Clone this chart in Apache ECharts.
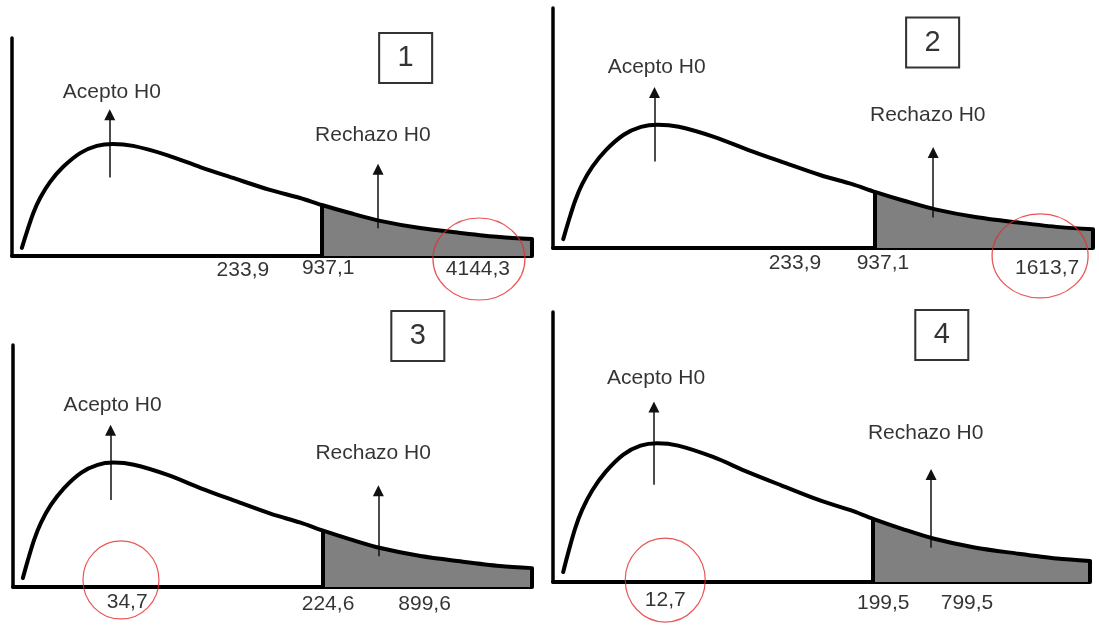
<!DOCTYPE html>
<html><head><meta charset="utf-8">
<script src="https://cdn.jsdelivr.net/npm/echarts@6/dist/echarts.min.js"></script>
<style>html,body{margin:0;padding:0;background:#fff}#c{width:1099px;height:626px}</style>
</head><body><div id="c"></div>
<script>
// Shared density-curve shape (x: % of axis length, y: % of axis height)
const curveX = [1.9, 2.8, 4.1, 5.4, 7.3, 9.8, 13.1, 16.3, 19.4, 23.3, 29.8, 36.2, 42.5, 49.6, 55.4, 59.6, 65.0, 70.8, 78.5, 86.2, 93.8, 100];
const curveY = [3.7, 10.6, 19.7, 26.6, 33.9, 40.8, 47.2, 50.5, 51.4, 50.5, 46.3, 40.8, 35.8, 30.3, 26.6, 23.4, 19.7, 16.1, 12.8, 10.6, 8.7, 7.8];
const criticalX = 59.6;
const panelNumbers = ['1', '2', '3', '4'];
const acceptText = 'Acepto H0';
const rejectText = 'Rechazo H0';
const tickLabels = [
  ['233,9', '937,1', '4144,3'],
  ['233,9', '937,1', '1613,7'],
  ['34,7', '224,6', '899,6'],
  ['12,7', '199,5', '799,5']
];

// ---- layout (pixels / positions in axis %) ----
const grids = [
  {left: 12, top: 38, width: 520, height: 218},
  {left: 553, top: 8, width: 540, height: 240},
  {left: 13, top: 345, width: 519, height: 242},
  {left: 553, top: 312, width: 537, height: 270}
];
const tickPos = [
  [[44.4, -6.4], [60.8, -5.8], [89.6, -6.2]],
  [[44.8, -6.3], [61.1, -6.3], [91.5, -8.3]],
  [[22.0, -6.2], [60.7, -7.0], [79.3, -7.0]],
  [[20.9, -6.7], [61.5, -7.8], [77.1, -7.8]]
];
const circlePos = [[89.8, -1.4, 92, 82], [90.2, -3.3, 96, 84], [20.8, 2.9, 76, 78], [20.9, 0.7, 80, 84]];
const boxPos = [[75.7, 90.8], [70.3, 85.6], [78.0, 103.7], [72.4, 91.5]];
const acceptArrow = {x: 18.8, y0: 36, y1: 64.8, tx: 19.2, ty: 75.3};
const rejectArrow = {x: 70.4, y0: 12.7, y1: 39.8, tx: 69.4, ty: 55.2};

const FONT = 'Liberation Sans';
const TXT = '#000';
const critY = curveY[curveX.indexOf(criticalX)];
const endX = curveX[curveX.length - 1], endY = curveY[curveY.length - 1];
const curveData = curveX.map((x, i) => [x, curveY[i]]);
const tailData = curveData.filter(d => d[0] >= criticalX);

const option = {
  animation: false,
  backgroundColor: '#fff',
  grid: grids.map(g => Object.assign({containLabel: false, outerBoundsMode: 'none'}, g)),
  xAxis: grids.map((g, i) => ({
    type: 'value', gridIndex: i, min: 0, max: 100,
    axisLine: {show: true, onZero: false, lineStyle: {color: '#000', width: 4}},
    axisTick: {show: false}, axisLabel: {show: false}, splitLine: {show: false}
  })),
  yAxis: grids.map((g, i) => ({
    type: 'value', gridIndex: i, min: 0, max: 100,
    axisLine: {show: true, onZero: false, lineStyle: {color: '#000', width: 3.5}},
    axisTick: {show: false}, axisLabel: {show: false}, splitLine: {show: false}
  })),
  series: []
};

grids.forEach((g, i) => {
  const ax = {xAxisIndex: i, yAxisIndex: i};
  // rejection tail (shaded)
  option.series.push(Object.assign({
    type: 'line', data: tailData, smooth: 0.3, symbol: 'none', z: 3,
    lineStyle: {width: 0, opacity: 0},
    areaStyle: {color: '#808080', opacity: 1},
    markLine: {
      silent: true, symbol: ['none', 'none'], label: {show: false},
      lineStyle: {color: '#000', width: 4, type: 'solid'},
      data: [
        [{coord: [criticalX, 0]}, {coord: [criticalX, critY]}],
        [{coord: [endX, 0]}, {coord: [endX, endY]}]
      ]
    }
  }, ax));
  // density curve
  option.series.push(Object.assign({
    type: 'line', data: curveData, smooth: 0.3, symbol: 'none', z: 5,
    lineStyle: {color: '#000', width: 4, cap: 'round', join: 'round'}
  }, ax));
  // arrows
  option.series.push(Object.assign({
    type: 'scatter', data: [], z: 6,
    markLine: {
      silent: true, symbol: ['none', 'triangle'], symbolSize: [11, 11],
      label: {show: false},
      lineStyle: {color: '#111', width: 1.5, type: 'solid'},
      data: [
        [{coord: [acceptArrow.x, acceptArrow.y0]}, {coord: [acceptArrow.x, acceptArrow.y1]}],
        [{coord: [rejectArrow.x, rejectArrow.y0]}, {coord: [rejectArrow.x, rejectArrow.y1]}]
      ]
    }
  }, ax));
  // texts: region names + axis value labels
  const texts = [
    {value: [acceptArrow.tx, acceptArrow.ty], name: acceptText},
    {value: [rejectArrow.tx, rejectArrow.ty], name: rejectText}
  ].concat(tickLabels[i].map((t, k) => ({value: tickPos[i][k], name: t})));
  option.series.push(Object.assign({
    type: 'scatter', data: texts, symbolSize: 0, clip: false, z: 8,
    label: {show: true, position: 'inside', formatter: '{b}', color: TXT, fontSize: 21, fontFamily: FONT}
  }, ax));
  // numbered box
  option.series.push(Object.assign({
    type: 'scatter', symbol: 'rect', symbolSize: [53, 50], clip: false, z: 7,
    data: [{value: boxPos[i], name: panelNumbers[i]}],
    itemStyle: {color: '#fff', borderColor: '#000', borderWidth: 2},
    label: {show: true, position: 'inside', formatter: '{b}', color: '#000', fontSize: 29, fontFamily: FONT}
  }, ax));
  // red circle
  const c = circlePos[i];
  option.series.push(Object.assign({
    type: 'scatter', symbol: 'circle', symbolSize: [c[2], c[3]], clip: false, z: 9, silent: true,
    data: [[c[0], c[1]]],
    itemStyle: {color: 'rgba(0,0,0,0)', borderColor: '#e52b2b', borderWidth: 1.2}
  }, ax));
});

const chart = echarts.init(document.getElementById('c'), null, {renderer: 'canvas'});
chart.setOption(option);
</script>
</body></html>
